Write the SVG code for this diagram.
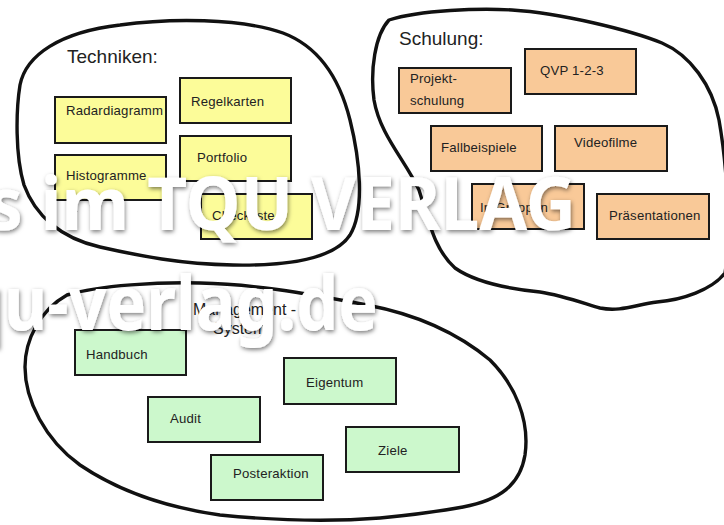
<svg xmlns="http://www.w3.org/2000/svg" width="724" height="525" viewBox="0 0 724 525">
<defs>
<style>
.blob{fill:none;stroke:#111;stroke-width:3.4;stroke-linejoin:round;stroke-linecap:round}
.box rect{stroke:#1a1a1a;stroke-width:2}
.y rect{fill:#FCFC99}
.o rect{fill:#F9C998}
.g rect{fill:#CCF8CC}
.lbl{font-family:"Liberation Sans",Arial,sans-serif;font-size:13.2px;fill:#222;letter-spacing:0.2px}
.title{font-family:"Liberation Sans",Arial,sans-serif;font-size:19px;fill:#222}
.wm{font-family:"Noto Sans",sans-serif;font-weight:700;fill:#fff}
</style>
<filter id="sh" x="-10%" y="-30%" width="120%" height="160%">
<feDropShadow dx="1" dy="2" stdDeviation="2" flood-color="#000" flood-opacity="0.5"/>
</filter>
</defs>
<rect width="724" height="525" fill="#fff"/>
<g id="connectors">
<path id="blob-techniken" class="blob" d="M120,25 C170,18 240,18 283,33 C320,47 340,80 350,120 C360,160 365,210 350,235 C335,258 290,266 233,265 C180,264 140,256 100,247 C60,238 35,215 24,185 C15,155 16,110 20,85 C26,55 60,32 120,25 Z"/>
<path id="blob-schulung" class="blob" d="M389,20 C420,10 480,8 512,10 C560,13 630,30 662,43 C690,55 712,85 719,120 C726,160 732,230 725,273 C712,290 682,300 657,302 C635,305 620,312 600,308 C580,302 560,295 540,292 C510,289 475,282 455,268 C435,250 430,225 419,190 C405,160 380,135 374,100 C370,70 375,35 389,20 Z"/>
<path id="blob-management" class="blob" d="M67,295 C100,285 160,282 200,283 C250,284 300,292 367,305 C420,315 460,335 490,360 C515,385 530,420 525,455 C520,485 500,500 463,507 C430,513 400,516 380,518 C330,522 270,520 220,515 C170,508 120,492 80,465 C45,440 25,400 25,367 C25,340 40,310 67,295 Z"/>
</g>
<g id="title-techniken"><text class="title" x="67" y="63">Techniken:</text></g>
<g id="title-schulung"><text class="title" x="399" y="45">Schulung:</text></g>
<g id="title-management"><text class="title" x="193" y="315" style="font-size:16px">Management -</text><text class="title" x="213" y="334" style="font-size:16px">System:</text></g>

<g id="radardiagramm" class="box y"><rect x="55" y="97" width="111" height="46"/><text class="lbl" x="66" y="115">Radardiagramm</text></g>
<g id="regelkarten" class="box y"><rect x="180" y="78" width="111" height="45"/><text class="lbl" x="191" y="106">Regelkarten</text></g>
<g id="histogramme" class="box y"><rect x="55" y="155" width="111" height="45"/><text class="lbl" x="66" y="180">Histogramme</text></g>
<g id="portfolio" class="box y"><rect x="180" y="136" width="111" height="45"/><text class="lbl" x="197" y="162">Portfolio</text></g>
<g id="checkliste" class="box y"><rect x="201" y="194" width="111" height="45"/><text class="lbl" x="212" y="220">Checkliste</text></g>

<g id="projektschulung" class="box o"><rect x="399" y="68" width="112" height="45"/><text class="lbl" x="410" y="83">Projekt-</text><text class="lbl" x="410" y="105">schulung</text></g>
<g id="qvp" class="box o"><rect x="525" y="49" width="111" height="45"/><text class="lbl" x="540" y="75">QVP 1-2-3</text></g>
<g id="fallbeispiele" class="box o"><rect x="431" y="126" width="111" height="45"/><text class="lbl" x="441" y="152">Fallbeispiele</text></g>
<g id="videofilme" class="box o"><rect x="555" y="126" width="112" height="45"/><text class="lbl" x="574" y="147">Videofilme</text></g>
<g id="gruppen" class="box o"><rect x="472" y="184" width="112" height="45"/><text class="lbl" x="480" y="212">In Gruppen</text></g>
<g id="praesentationen" class="box o"><rect x="597" y="194" width="112" height="45"/><text class="lbl" x="609" y="220">Präsentationen</text></g>

<g id="handbuch" class="box g"><rect x="75" y="330" width="111" height="45"/><text class="lbl" x="86" y="359">Handbuch</text></g>
<g id="eigentum" class="box g"><rect x="284" y="358" width="112" height="46"/><text class="lbl" x="306" y="387">Eigentum</text></g>
<g id="audit" class="box g"><rect x="148" y="397" width="112" height="45"/><text class="lbl" x="170" y="423">Audit</text></g>
<g id="ziele" class="box g"><rect x="346" y="427" width="113" height="45"/><text class="lbl" x="378" y="455">Ziele</text></g>
<g id="posteraktion" class="box g"><rect x="211" y="455" width="112" height="45"/><text class="lbl" x="233" y="478">Posteraktion</text></g>

<g id="watermark" filter="url(#sh)">
<text class="wm" x="-12" y="230" font-size="74" textLength="588" lengthAdjust="spacingAndGlyphs">s im TQU VERLAG</text>
<text class="wm" x="-38" y="330" font-size="76" textLength="416" lengthAdjust="spacingAndGlyphs">qu-verlag.de</text>
</g>
</svg>
